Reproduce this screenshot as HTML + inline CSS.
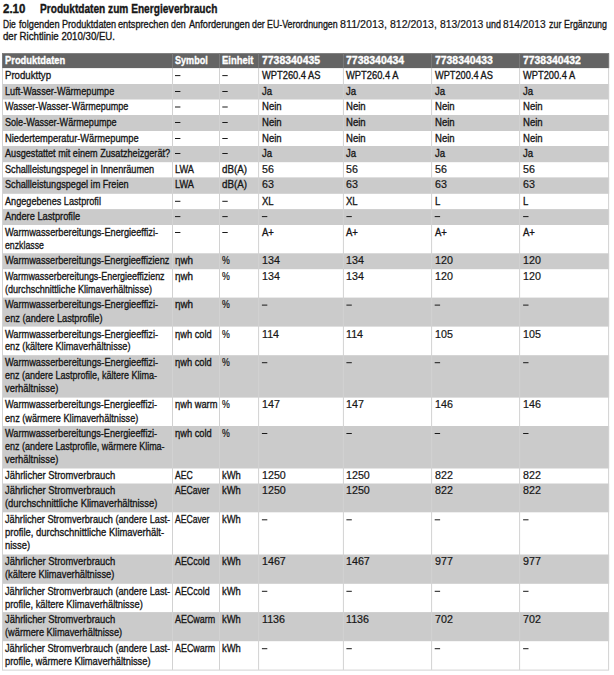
<!DOCTYPE html>
<html><head><meta charset="utf-8"><style>
html,body{margin:0;padding:0;background:#fff;width:614px;height:675px;overflow:hidden;position:relative}
.r{position:absolute}
.t{position:absolute;white-space:nowrap;font-family:"Liberation Sans",sans-serif;font-size:11.5px;line-height:13.0px;color:#161616;transform-origin:0 0;-webkit-text-stroke:0.35px currentColor}
.b{font-weight:bold}
</style></head><body>
<svg width="614" height="675" style="position:absolute;left:0;top:0"><rect x="2.00" y="53.20" width="607.10" height="14.90" fill="#646464"/><rect x="2.00" y="84.00" width="607.10" height="15.50" fill="#cbcbcb"/><rect x="2.00" y="115.00" width="607.10" height="16.00" fill="#cbcbcb"/><rect x="2.00" y="146.00" width="607.10" height="16.20" fill="#cbcbcb"/><rect x="2.00" y="177.40" width="607.10" height="16.40" fill="#cbcbcb"/><rect x="2.00" y="209.10" width="607.10" height="15.90" fill="#cbcbcb"/><rect x="2.00" y="253.30" width="607.10" height="15.90" fill="#cbcbcb"/><rect x="2.00" y="297.60" width="607.10" height="29.00" fill="#cbcbcb"/><rect x="2.00" y="355.20" width="607.10" height="42.40" fill="#cbcbcb"/><rect x="2.00" y="426.00" width="607.10" height="42.50" fill="#cbcbcb"/><rect x="2.00" y="483.50" width="607.10" height="28.80" fill="#cbcbcb"/><rect x="2.00" y="554.50" width="607.10" height="29.30" fill="#cbcbcb"/><rect x="2.00" y="612.10" width="607.10" height="29.10" fill="#cbcbcb"/><rect x="2.00" y="68.10" width="1.00" height="601.80" fill="#d2d2d2"/><rect x="2.00" y="53.20" width="1.00" height="14.90" fill="#7a7a7a"/><rect x="172.00" y="68.10" width="1.00" height="601.80" fill="#d2d2d2"/><rect x="172.00" y="53.20" width="1.00" height="14.90" fill="#7a7a7a"/><rect x="219.00" y="68.10" width="1.00" height="601.80" fill="#d2d2d2"/><rect x="219.00" y="53.20" width="1.00" height="14.90" fill="#7a7a7a"/><rect x="258.10" y="68.10" width="1.00" height="601.80" fill="#d2d2d2"/><rect x="258.10" y="53.20" width="1.00" height="14.90" fill="#7a7a7a"/><rect x="342.90" y="68.10" width="1.00" height="601.80" fill="#d2d2d2"/><rect x="342.90" y="53.20" width="1.00" height="14.90" fill="#7a7a7a"/><rect x="431.10" y="68.10" width="1.00" height="601.80" fill="#d2d2d2"/><rect x="431.10" y="53.20" width="1.00" height="14.90" fill="#7a7a7a"/><rect x="519.10" y="68.10" width="1.00" height="601.80" fill="#d2d2d2"/><rect x="519.10" y="53.20" width="1.00" height="14.90" fill="#7a7a7a"/><rect x="608.10" y="68.10" width="1.00" height="601.80" fill="#d2d2d2"/><rect x="608.10" y="53.20" width="1.00" height="14.90" fill="#7a7a7a"/><rect x="2.00" y="669.60" width="607.10" height="1.00" fill="#d2d2d2"/><rect x="175.00" y="75.10" width="5.4" height="1.0" fill="#1a1a1a"/><rect x="222.30" y="75.10" width="5.4" height="1.0" fill="#1a1a1a"/><rect x="175.00" y="91.00" width="5.4" height="1.0" fill="#1a1a1a"/><rect x="222.30" y="91.00" width="5.4" height="1.0" fill="#1a1a1a"/><rect x="175.00" y="106.50" width="5.4" height="1.0" fill="#1a1a1a"/><rect x="222.30" y="106.50" width="5.4" height="1.0" fill="#1a1a1a"/><rect x="175.00" y="122.00" width="5.4" height="1.0" fill="#1a1a1a"/><rect x="222.30" y="122.00" width="5.4" height="1.0" fill="#1a1a1a"/><rect x="175.00" y="138.00" width="5.4" height="1.0" fill="#1a1a1a"/><rect x="222.30" y="138.00" width="5.4" height="1.0" fill="#1a1a1a"/><rect x="175.00" y="153.00" width="5.4" height="1.0" fill="#1a1a1a"/><rect x="222.30" y="153.00" width="5.4" height="1.0" fill="#1a1a1a"/><rect x="175.00" y="200.80" width="5.4" height="1.0" fill="#1a1a1a"/><rect x="222.30" y="200.80" width="5.4" height="1.0" fill="#1a1a1a"/><rect x="175.00" y="216.10" width="5.4" height="1.0" fill="#1a1a1a"/><rect x="222.30" y="216.10" width="5.4" height="1.0" fill="#1a1a1a"/><rect x="261.90" y="216.10" width="5.4" height="1.0" fill="#1a1a1a"/><rect x="346.40" y="216.10" width="5.4" height="1.0" fill="#1a1a1a"/><rect x="434.70" y="216.10" width="5.4" height="1.0" fill="#1a1a1a"/><rect x="523.10" y="216.10" width="5.4" height="1.0" fill="#1a1a1a"/><rect x="175.00" y="232.00" width="5.4" height="1.0" fill="#1a1a1a"/><rect x="222.30" y="232.00" width="5.4" height="1.0" fill="#1a1a1a"/><rect x="261.90" y="304.60" width="5.4" height="1.0" fill="#1a1a1a"/><rect x="346.40" y="304.60" width="5.4" height="1.0" fill="#1a1a1a"/><rect x="434.70" y="304.60" width="5.4" height="1.0" fill="#1a1a1a"/><rect x="523.10" y="304.60" width="5.4" height="1.0" fill="#1a1a1a"/><rect x="261.90" y="362.20" width="5.4" height="1.0" fill="#1a1a1a"/><rect x="346.40" y="362.20" width="5.4" height="1.0" fill="#1a1a1a"/><rect x="434.70" y="362.20" width="5.4" height="1.0" fill="#1a1a1a"/><rect x="523.10" y="362.20" width="5.4" height="1.0" fill="#1a1a1a"/><rect x="261.90" y="433.00" width="5.4" height="1.0" fill="#1a1a1a"/><rect x="346.40" y="433.00" width="5.4" height="1.0" fill="#1a1a1a"/><rect x="434.70" y="433.00" width="5.4" height="1.0" fill="#1a1a1a"/><rect x="523.10" y="433.00" width="5.4" height="1.0" fill="#1a1a1a"/><rect x="261.90" y="519.30" width="5.4" height="1.0" fill="#1a1a1a"/><rect x="346.40" y="519.30" width="5.4" height="1.0" fill="#1a1a1a"/><rect x="434.70" y="519.30" width="5.4" height="1.0" fill="#1a1a1a"/><rect x="523.10" y="519.30" width="5.4" height="1.0" fill="#1a1a1a"/><rect x="261.90" y="590.80" width="5.4" height="1.0" fill="#1a1a1a"/><rect x="346.40" y="590.80" width="5.4" height="1.0" fill="#1a1a1a"/><rect x="434.70" y="590.80" width="5.4" height="1.0" fill="#1a1a1a"/><rect x="523.10" y="590.80" width="5.4" height="1.0" fill="#1a1a1a"/><rect x="261.90" y="648.20" width="5.4" height="1.0" fill="#1a1a1a"/><rect x="346.40" y="648.20" width="5.4" height="1.0" fill="#1a1a1a"/><rect x="434.70" y="648.20" width="5.4" height="1.0" fill="#1a1a1a"/><rect x="523.10" y="648.20" width="5.4" height="1.0" fill="#1a1a1a"/></svg>
<div class="t b" style="left:3.00px;top:3px;transform:scaleX(0.9578);font-size:12px">2.10</div>
<div class="t b" style="left:40.30px;top:3px;transform:scaleX(0.8442);font-size:12px">Produktdaten zum Energieverbrauch</div>
<div class="t" style="left:3.40px;top:18px;transform:scaleX(0.7384)">Die</div>
<div class="t" style="left:18.50px;top:18px;transform:scaleX(0.8024)">folgenden</div>
<div class="t" style="left:61.60px;top:18px;transform:scaleX(0.7904)">Produktdaten</div>
<div class="t" style="left:118.20px;top:18px;transform:scaleX(0.8001)">entsprechen</div>
<div class="t" style="left:171.40px;top:18px;transform:scaleX(0.7640)">den</div>
<div class="t" style="left:188.50px;top:18px;transform:scaleX(0.7984)">Anforderungen</div>
<div class="t" style="left:251.80px;top:18px;transform:scaleX(0.7671)">der</div>
<div class="t" style="left:267.00px;top:18px;transform:scaleX(0.7674)">EU-Verordnungen</div>
<div class="t" style="left:340.10px;top:18px;transform:scaleX(0.9327);-webkit-text-stroke-width:0.22px">811/2013,</div>
<div class="t" style="left:390.00px;top:18px;transform:scaleX(0.9162);-webkit-text-stroke-width:0.22px">812/2013,</div>
<div class="t" style="left:439.80px;top:18px;transform:scaleX(0.9030);-webkit-text-stroke-width:0.22px">813/2013</div>
<div class="t" style="left:486.00px;top:18px;transform:scaleX(0.7729)">und</div>
<div class="t" style="left:503.30px;top:18px;transform:scaleX(0.8874);-webkit-text-stroke-width:0.22px">814/2013</div>
<div class="t" style="left:548.70px;top:18px;transform:scaleX(0.7720)">zur</div>
<div class="t" style="left:563.50px;top:18px;transform:scaleX(0.7725)">Ergänzung</div>
<div class="t" style="left:3.10px;top:30px;transform:scaleX(0.8382)">der Richtlinie 2010/30/EU.</div>
<div class="t b" style="left:5.10px;top:54px;transform:scaleX(0.8133);color:#fff">Produktdaten</div>
<div class="t b" style="left:174.80px;top:54px;transform:scaleX(0.7883);color:#fff">Symbol</div>
<div class="t b" style="left:222.10px;top:54px;transform:scaleX(0.8194);color:#fff">Einheit</div>
<div class="t b" style="left:261.70px;top:54px;transform:scaleX(0.9083);color:#fff">7738340435</div>
<div class="t b" style="left:346.20px;top:54px;transform:scaleX(0.9093);color:#fff">7738340434</div>
<div class="t b" style="left:434.50px;top:54px;transform:scaleX(0.9049);color:#fff">7738340433</div>
<div class="t b" style="left:522.90px;top:54px;transform:scaleX(0.9055);color:#fff">7738340432</div>
<div class="t" style="left:5.10px;top:69px;transform:scaleX(0.8367)">Produkttyp</div>
<div class="t" style="left:261.70px;top:69px;transform:scaleX(0.8104)">WPT260.4 AS</div>
<div class="t" style="left:346.20px;top:69px;transform:scaleX(0.8121)">WPT260.4 A</div>
<div class="t" style="left:434.50px;top:69px;transform:scaleX(0.8020)">WPT200.4 AS</div>
<div class="t" style="left:522.90px;top:69px;transform:scaleX(0.8074)">WPT200.4 A</div>
<div class="t" style="left:5.10px;top:85px;transform:scaleX(0.7936)">Luft-Wasser-Wärmepumpe</div>
<div class="t" style="left:261.70px;top:85px;transform:scaleX(0.8300)">Ja</div>
<div class="t" style="left:346.20px;top:85px;transform:scaleX(0.8300)">Ja</div>
<div class="t" style="left:434.50px;top:85px;transform:scaleX(0.8300)">Ja</div>
<div class="t" style="left:522.90px;top:85px;transform:scaleX(0.8300)">Ja</div>
<div class="t" style="left:5.10px;top:100px;transform:scaleX(0.7861)">Wasser-Wasser-Wärmepumpe</div>
<div class="t" style="left:261.70px;top:100px;transform:scaleX(0.8300)">Nein</div>
<div class="t" style="left:346.20px;top:100px;transform:scaleX(0.8300)">Nein</div>
<div class="t" style="left:434.50px;top:100px;transform:scaleX(0.8300)">Nein</div>
<div class="t" style="left:522.90px;top:100px;transform:scaleX(0.8300)">Nein</div>
<div class="t" style="left:5.10px;top:116px;transform:scaleX(0.7890)">Sole-Wasser-Wärmepumpe</div>
<div class="t" style="left:261.70px;top:116px;transform:scaleX(0.8300)">Nein</div>
<div class="t" style="left:346.20px;top:116px;transform:scaleX(0.8300)">Nein</div>
<div class="t" style="left:434.50px;top:116px;transform:scaleX(0.8300)">Nein</div>
<div class="t" style="left:522.90px;top:116px;transform:scaleX(0.8300)">Nein</div>
<div class="t" style="left:5.10px;top:132px;transform:scaleX(0.8072)">Niedertemperatur-Wärmepumpe</div>
<div class="t" style="left:261.70px;top:132px;transform:scaleX(0.8300)">Nein</div>
<div class="t" style="left:346.20px;top:132px;transform:scaleX(0.8300)">Nein</div>
<div class="t" style="left:434.50px;top:132px;transform:scaleX(0.8300)">Nein</div>
<div class="t" style="left:522.90px;top:132px;transform:scaleX(0.8300)">Nein</div>
<div class="t" style="left:5.10px;top:147px;transform:scaleX(0.7920)">Ausgestattet mit einem Zusatzheizgerät?</div>
<div class="t" style="left:261.70px;top:147px;transform:scaleX(0.8300)">Ja</div>
<div class="t" style="left:346.20px;top:147px;transform:scaleX(0.8300)">Ja</div>
<div class="t" style="left:434.50px;top:147px;transform:scaleX(0.8300)">Ja</div>
<div class="t" style="left:522.90px;top:147px;transform:scaleX(0.8300)">Ja</div>
<div class="t" style="left:5.10px;top:163px;transform:scaleX(0.7938)">Schallleistungspegel in Innenräumen</div>
<div class="t" style="left:174.80px;top:163px;transform:scaleX(0.8003)">LWA</div>
<div class="t" style="left:222.10px;top:163px;transform:scaleX(0.8509)">dB(A)</div>
<div class="t" style="left:261.70px;top:163px;transform:scaleX(0.9300);-webkit-text-stroke-width:0.22px">56</div>
<div class="t" style="left:346.20px;top:163px;transform:scaleX(0.9300);-webkit-text-stroke-width:0.22px">56</div>
<div class="t" style="left:434.50px;top:163px;transform:scaleX(0.9300);-webkit-text-stroke-width:0.22px">56</div>
<div class="t" style="left:522.90px;top:163px;transform:scaleX(0.9300);-webkit-text-stroke-width:0.22px">56</div>
<div class="t" style="left:5.10px;top:178px;transform:scaleX(0.7924)">Schallleistungspegel im Freien</div>
<div class="t" style="left:174.80px;top:178px;transform:scaleX(0.8003)">LWA</div>
<div class="t" style="left:222.10px;top:178px;transform:scaleX(0.8509)">dB(A)</div>
<div class="t" style="left:261.70px;top:178px;transform:scaleX(0.9300);-webkit-text-stroke-width:0.22px">63</div>
<div class="t" style="left:346.20px;top:178px;transform:scaleX(0.9300);-webkit-text-stroke-width:0.22px">63</div>
<div class="t" style="left:434.50px;top:178px;transform:scaleX(0.9300);-webkit-text-stroke-width:0.22px">63</div>
<div class="t" style="left:522.90px;top:178px;transform:scaleX(0.9300);-webkit-text-stroke-width:0.22px">63</div>
<div class="t" style="left:5.10px;top:195px;transform:scaleX(0.7937)">Angegebenes Lastprofil</div>
<div class="t" style="left:261.70px;top:195px;transform:scaleX(0.8300)">XL</div>
<div class="t" style="left:346.20px;top:195px;transform:scaleX(0.8300)">XL</div>
<div class="t" style="left:434.50px;top:195px;transform:scaleX(0.8300)">L</div>
<div class="t" style="left:522.90px;top:195px;transform:scaleX(0.8300)">L</div>
<div class="t" style="left:5.10px;top:210px;transform:scaleX(0.8047)">Andere Lastprofile</div>
<div class="t" style="left:5.10px;top:226px;transform:scaleX(0.8006)">Warmwasserbereitungs-Energieeffizi-</div>
<div class="t" style="left:5.10px;top:239px;transform:scaleX(0.7604)">enzklasse</div>
<div class="t" style="left:261.70px;top:226px;transform:scaleX(0.8300)">A+</div>
<div class="t" style="left:346.20px;top:226px;transform:scaleX(0.8300)">A+</div>
<div class="t" style="left:434.50px;top:226px;transform:scaleX(0.8300)">A+</div>
<div class="t" style="left:522.90px;top:226px;transform:scaleX(0.8300)">A+</div>
<div class="t" style="left:5.10px;top:254px;transform:scaleX(0.7986)">Warmwasserbereitungs-Energieeffizienz</div>
<div class="t" style="left:174.80px;top:254px;transform:scaleX(0.8553)">ηwh</div>
<div class="t" style="left:222.10px;top:254px;transform:scaleX(0.7640);-webkit-text-stroke-width:0.22px">%</div>
<div class="t" style="left:261.70px;top:254px;transform:scaleX(0.9300);-webkit-text-stroke-width:0.22px">134</div>
<div class="t" style="left:346.20px;top:254px;transform:scaleX(0.9300);-webkit-text-stroke-width:0.22px">134</div>
<div class="t" style="left:434.50px;top:254px;transform:scaleX(0.9300);-webkit-text-stroke-width:0.22px">120</div>
<div class="t" style="left:522.90px;top:254px;transform:scaleX(0.9300);-webkit-text-stroke-width:0.22px">120</div>
<div class="t" style="left:5.10px;top:270px;transform:scaleX(0.7752)">Warmwasserbereitungs-Energieeffizienz</div>
<div class="t" style="left:5.10px;top:283px;transform:scaleX(0.7875)">(durchschnittliche Klimaverhältnisse)</div>
<div class="t" style="left:174.80px;top:270px;transform:scaleX(0.8553)">ηwh</div>
<div class="t" style="left:222.10px;top:270px;transform:scaleX(0.7640);-webkit-text-stroke-width:0.22px">%</div>
<div class="t" style="left:261.70px;top:270px;transform:scaleX(0.9300);-webkit-text-stroke-width:0.22px">134</div>
<div class="t" style="left:346.20px;top:270px;transform:scaleX(0.9300);-webkit-text-stroke-width:0.22px">134</div>
<div class="t" style="left:434.50px;top:270px;transform:scaleX(0.9300);-webkit-text-stroke-width:0.22px">120</div>
<div class="t" style="left:522.90px;top:270px;transform:scaleX(0.9300);-webkit-text-stroke-width:0.22px">120</div>
<div class="t" style="left:5.10px;top:298px;transform:scaleX(0.8006)">Warmwasserbereitungs-Energieeffizi-</div>
<div class="t" style="left:5.10px;top:312px;transform:scaleX(0.8034)">enz (andere Lastprofile)</div>
<div class="t" style="left:174.80px;top:298px;transform:scaleX(0.8553)">ηwh</div>
<div class="t" style="left:222.10px;top:298px;transform:scaleX(0.7640);-webkit-text-stroke-width:0.22px">%</div>
<div class="t" style="left:5.10px;top:328px;transform:scaleX(0.8006)">Warmwasserbereitungs-Energieeffizi-</div>
<div class="t" style="left:5.10px;top:340px;transform:scaleX(0.7980)">enz (kältere Klimaverhältnisse)</div>
<div class="t" style="left:174.80px;top:328px;transform:scaleX(0.8085)">ηwh cold</div>
<div class="t" style="left:222.10px;top:328px;transform:scaleX(0.7640);-webkit-text-stroke-width:0.22px">%</div>
<div class="t" style="left:261.70px;top:328px;transform:scaleX(0.9300);-webkit-text-stroke-width:0.22px">114</div>
<div class="t" style="left:346.20px;top:328px;transform:scaleX(0.9300);-webkit-text-stroke-width:0.22px">114</div>
<div class="t" style="left:434.50px;top:328px;transform:scaleX(0.9300);-webkit-text-stroke-width:0.22px">105</div>
<div class="t" style="left:522.90px;top:328px;transform:scaleX(0.9300);-webkit-text-stroke-width:0.22px">105</div>
<div class="t" style="left:5.10px;top:356px;transform:scaleX(0.8006)">Warmwasserbereitungs-Energieeffizi-</div>
<div class="t" style="left:5.10px;top:369px;transform:scaleX(0.7827)">enz (andere Lastprofile, kältere Klima-</div>
<div class="t" style="left:5.10px;top:382px;transform:scaleX(0.8173)">verhältnisse)</div>
<div class="t" style="left:174.80px;top:356px;transform:scaleX(0.8085)">ηwh cold</div>
<div class="t" style="left:222.10px;top:356px;transform:scaleX(0.7640);-webkit-text-stroke-width:0.22px">%</div>
<div class="t" style="left:5.10px;top:398px;transform:scaleX(0.7959)">Warmwasserbereitungs-Energieeffizi-</div>
<div class="t" style="left:5.10px;top:412px;transform:scaleX(0.7959)">enz (wärmere Klimaverhältnisse)</div>
<div class="t" style="left:174.80px;top:398px;transform:scaleX(0.8094)">ηwh warm</div>
<div class="t" style="left:222.10px;top:398px;transform:scaleX(0.7640);-webkit-text-stroke-width:0.22px">%</div>
<div class="t" style="left:261.70px;top:398px;transform:scaleX(0.9300);-webkit-text-stroke-width:0.22px">147</div>
<div class="t" style="left:346.20px;top:398px;transform:scaleX(0.9300);-webkit-text-stroke-width:0.22px">147</div>
<div class="t" style="left:434.50px;top:398px;transform:scaleX(0.9300);-webkit-text-stroke-width:0.22px">146</div>
<div class="t" style="left:522.90px;top:398px;transform:scaleX(0.9300);-webkit-text-stroke-width:0.22px">146</div>
<div class="t" style="left:5.10px;top:427px;transform:scaleX(0.7959)">Warmwasserbereitungs-Energieeffizi-</div>
<div class="t" style="left:5.10px;top:440px;transform:scaleX(0.7803)">enz (andere Lastprofile, wärmere Klima-</div>
<div class="t" style="left:5.10px;top:453px;transform:scaleX(0.8173)">verhältnisse)</div>
<div class="t" style="left:174.80px;top:427px;transform:scaleX(0.8085)">ηwh cold</div>
<div class="t" style="left:222.10px;top:427px;transform:scaleX(0.7640);-webkit-text-stroke-width:0.22px">%</div>
<div class="t" style="left:5.10px;top:469px;transform:scaleX(0.8166)">Jährlicher Stromverbrauch</div>
<div class="t" style="left:174.80px;top:469px;transform:scaleX(0.7500)">AEC</div>
<div class="t" style="left:222.10px;top:469px;transform:scaleX(0.8181)">kWh</div>
<div class="t" style="left:261.70px;top:469px;transform:scaleX(0.9300);-webkit-text-stroke-width:0.22px">1250</div>
<div class="t" style="left:346.20px;top:469px;transform:scaleX(0.9300);-webkit-text-stroke-width:0.22px">1250</div>
<div class="t" style="left:434.50px;top:469px;transform:scaleX(0.9300);-webkit-text-stroke-width:0.22px">822</div>
<div class="t" style="left:522.90px;top:469px;transform:scaleX(0.9300);-webkit-text-stroke-width:0.22px">822</div>
<div class="t" style="left:5.10px;top:484px;transform:scaleX(0.8166)">Jährlicher Stromverbrauch</div>
<div class="t" style="left:5.10px;top:497px;transform:scaleX(0.8160)">(durchschnittliche Klimaverhältnisse)</div>
<div class="t" style="left:174.80px;top:484px;transform:scaleX(0.7485)">AECaver</div>
<div class="t" style="left:222.10px;top:484px;transform:scaleX(0.8181)">kWh</div>
<div class="t" style="left:261.70px;top:484px;transform:scaleX(0.9300);-webkit-text-stroke-width:0.22px">1250</div>
<div class="t" style="left:346.20px;top:484px;transform:scaleX(0.9300);-webkit-text-stroke-width:0.22px">1250</div>
<div class="t" style="left:434.50px;top:484px;transform:scaleX(0.9300);-webkit-text-stroke-width:0.22px">822</div>
<div class="t" style="left:522.90px;top:484px;transform:scaleX(0.9300);-webkit-text-stroke-width:0.22px">822</div>
<div class="t" style="left:5.10px;top:513px;transform:scaleX(0.7997)">Jährlicher Stromverbrauch (andere Last-</div>
<div class="t" style="left:5.10px;top:526px;transform:scaleX(0.8216)">profile, durchschnittliche Klimaverhält-</div>
<div class="t" style="left:5.10px;top:539px;transform:scaleX(0.8177)">nisse)</div>
<div class="t" style="left:174.80px;top:513px;transform:scaleX(0.7485)">AECaver</div>
<div class="t" style="left:222.10px;top:513px;transform:scaleX(0.8181)">kWh</div>
<div class="t" style="left:5.10px;top:555px;transform:scaleX(0.8166)">Jährlicher Stromverbrauch</div>
<div class="t" style="left:5.10px;top:568px;transform:scaleX(0.8072)">(kältere Klimaverhältnisse)</div>
<div class="t" style="left:174.80px;top:555px;transform:scaleX(0.7727)">AECcold</div>
<div class="t" style="left:222.10px;top:555px;transform:scaleX(0.8181)">kWh</div>
<div class="t" style="left:261.70px;top:555px;transform:scaleX(0.9300);-webkit-text-stroke-width:0.22px">1467</div>
<div class="t" style="left:346.20px;top:555px;transform:scaleX(0.9300);-webkit-text-stroke-width:0.22px">1467</div>
<div class="t" style="left:434.50px;top:555px;transform:scaleX(0.9300);-webkit-text-stroke-width:0.22px">977</div>
<div class="t" style="left:522.90px;top:555px;transform:scaleX(0.9300);-webkit-text-stroke-width:0.22px">977</div>
<div class="t" style="left:5.10px;top:585px;transform:scaleX(0.7997)">Jährlicher Stromverbrauch (andere Last-</div>
<div class="t" style="left:5.10px;top:598px;transform:scaleX(0.8135)">profile, kältere Klimaverhältnisse)</div>
<div class="t" style="left:174.80px;top:585px;transform:scaleX(0.7727)">AECcold</div>
<div class="t" style="left:222.10px;top:585px;transform:scaleX(0.8181)">kWh</div>
<div class="t" style="left:5.10px;top:613px;transform:scaleX(0.8166)">Jährlicher Stromverbrauch</div>
<div class="t" style="left:5.10px;top:626px;transform:scaleX(0.8042)">(wärmere Klimaverhältnisse)</div>
<div class="t" style="left:174.80px;top:613px;transform:scaleX(0.7746)">AECwarm</div>
<div class="t" style="left:222.10px;top:613px;transform:scaleX(0.8181)">kWh</div>
<div class="t" style="left:261.70px;top:613px;transform:scaleX(0.9300);-webkit-text-stroke-width:0.22px">1136</div>
<div class="t" style="left:346.20px;top:613px;transform:scaleX(0.9300);-webkit-text-stroke-width:0.22px">1136</div>
<div class="t" style="left:434.50px;top:613px;transform:scaleX(0.9300);-webkit-text-stroke-width:0.22px">702</div>
<div class="t" style="left:522.90px;top:613px;transform:scaleX(0.9300);-webkit-text-stroke-width:0.22px">702</div>
<div class="t" style="left:5.10px;top:642px;transform:scaleX(0.7997)">Jährlicher Stromverbrauch (andere Last-</div>
<div class="t" style="left:5.10px;top:655px;transform:scaleX(0.8106)">profile, wärmere Klimaverhältnisse)</div>
<div class="t" style="left:174.80px;top:642px;transform:scaleX(0.7746)">AECwarm</div>
<div class="t" style="left:222.10px;top:642px;transform:scaleX(0.8181)">kWh</div>
</body></html>
